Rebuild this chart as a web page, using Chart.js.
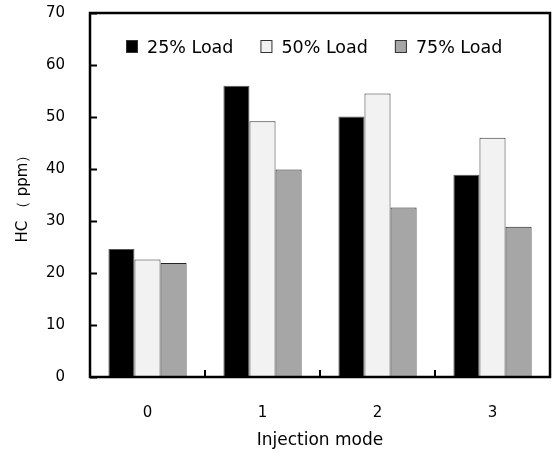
<!DOCTYPE html>
<html><head><meta charset="utf-8">
<script src="https://cdn.jsdelivr.net/npm/chart.js@4.4.0/dist/chart.umd.min.js"></script>
<style>html,body{margin:0;padding:0;background:#fff}#wrap{width:554px;height:454px}</style>
</head><body><div id="wrap"><canvas id="c" width="554" height="454"></canvas></div>
<script>
const categories = ['0', '1', '2', '3'];
const load25 = [24.6, 56.0, 50.1, 38.9];
const load50 = [22.6, 49.2, 54.5, 46.0];
const load75 = [21.9, 39.9, 32.6, 28.9];
const yTicks = [0, 10, 20, 30, 40, 50, 60, 70];
const FONT = "'DejaVu Sans', Verdana, sans-serif";

const framePlugin = {
  id: 'frame',
  afterDraw(chart) {
    const {ctx, chartArea: a, scales} = chart;
    ctx.save();
    ctx.strokeStyle = '#000';
    ctx.lineWidth = 2;
    scales.y.ticks.forEach(t => {
      const py = Math.round(scales.y.getPixelForValue(t.value)) + 0.5;
      ctx.beginPath(); ctx.moveTo(a.left, py); ctx.lineTo(a.left + 7, py); ctx.stroke();
    });
    for (let i = 0; i < categories.length - 1; i++) {
      const px = Math.round((scales.x.getPixelForValue(i) + scales.x.getPixelForValue(i + 1)) / 2);
      ctx.beginPath(); ctx.moveTo(px, a.bottom); ctx.lineTo(px, a.bottom - 7); ctx.stroke();
    }
    ctx.lineWidth = 2.5;
    ctx.strokeRect(a.left, a.top, a.right - a.left, a.bottom - a.top);

    // legend inside the plot area
    ctx.font = '17.5px ' + FONT;
    ctx.textBaseline = 'middle';
    ctx.textAlign = 'left';
    let x = a.left + 36;
    const yc = a.top + 34;
    chart.data.datasets.forEach(ds => {
      ctx.fillStyle = ds.backgroundColor;
      ctx.fillRect(x, yc - 7, 12, 13);
      ctx.lineWidth = 1;
      ctx.strokeStyle = '#333';
      ctx.strokeRect(x + 0.5, yc - 6.5, 11, 12);
      ctx.fillStyle = '#000';
      ctx.fillText(ds.label, x + 21, yc + 1);
      x += 21 + ctx.measureText(ds.label).width + 27;
    });
    ctx.restore();
  }
};

new Chart(document.getElementById('c'), {
  type: 'bar',
  data: {
    labels: categories,
    datasets: [
      {label: '25% Load', data: load25, backgroundColor: '#000000', borderColor: '#555555', borderWidth: 1},
      {label: '50% Load', data: load50, backgroundColor: '#f2f2f2', borderColor: '#333333', borderWidth: 1},
      {label: '75% Load', data: load75, backgroundColor: '#a6a6a6', borderColor: '#222222', borderWidth: 1}
    ]
  },
  options: {
    responsive: false,
    animation: false,
    devicePixelRatio: 1,
    layout: {padding: {left: 14, top: 13, right: 4, bottom: 3}},
    datasets: {bar: {categoryPercentage: 0.68, barPercentage: 1.0}},
    plugins: {
      legend: {display: false},
      tooltip: {enabled: false}
    },
    scales: {
      x: {
        grid: {display: false, drawTicks: false},
        border: {display: false},
        ticks: {color: '#000', font: {family: FONT, size: 15}, padding: 27},
        title: {display: true, text: 'Injection mode', color: '#000', font: {family: FONT, size: 17}, padding: 0},
        afterFit(s) { s.height = 74; }
      },
      y: {
        min: 0, max: 70,
        afterBuildTicks(s) { s.ticks = yTicks.map(v => ({value: v})); },
        grid: {display: true, drawOnChartArea: false, drawTicks: true, tickLength: 22, color: 'rgba(0,0,0,0)'},
        border: {display: false},
        ticks: {color: '#000', font: {family: FONT, size: 15}, padding: 3},
        title: {display: true, text: 'HC （ ppm）', color: '#000', font: {family: FONT, size: 15}, padding: 0},
        afterFit(s) { s.width = 76; }
      }
    }
  },
  plugins: [framePlugin]
});
</script></body></html>
